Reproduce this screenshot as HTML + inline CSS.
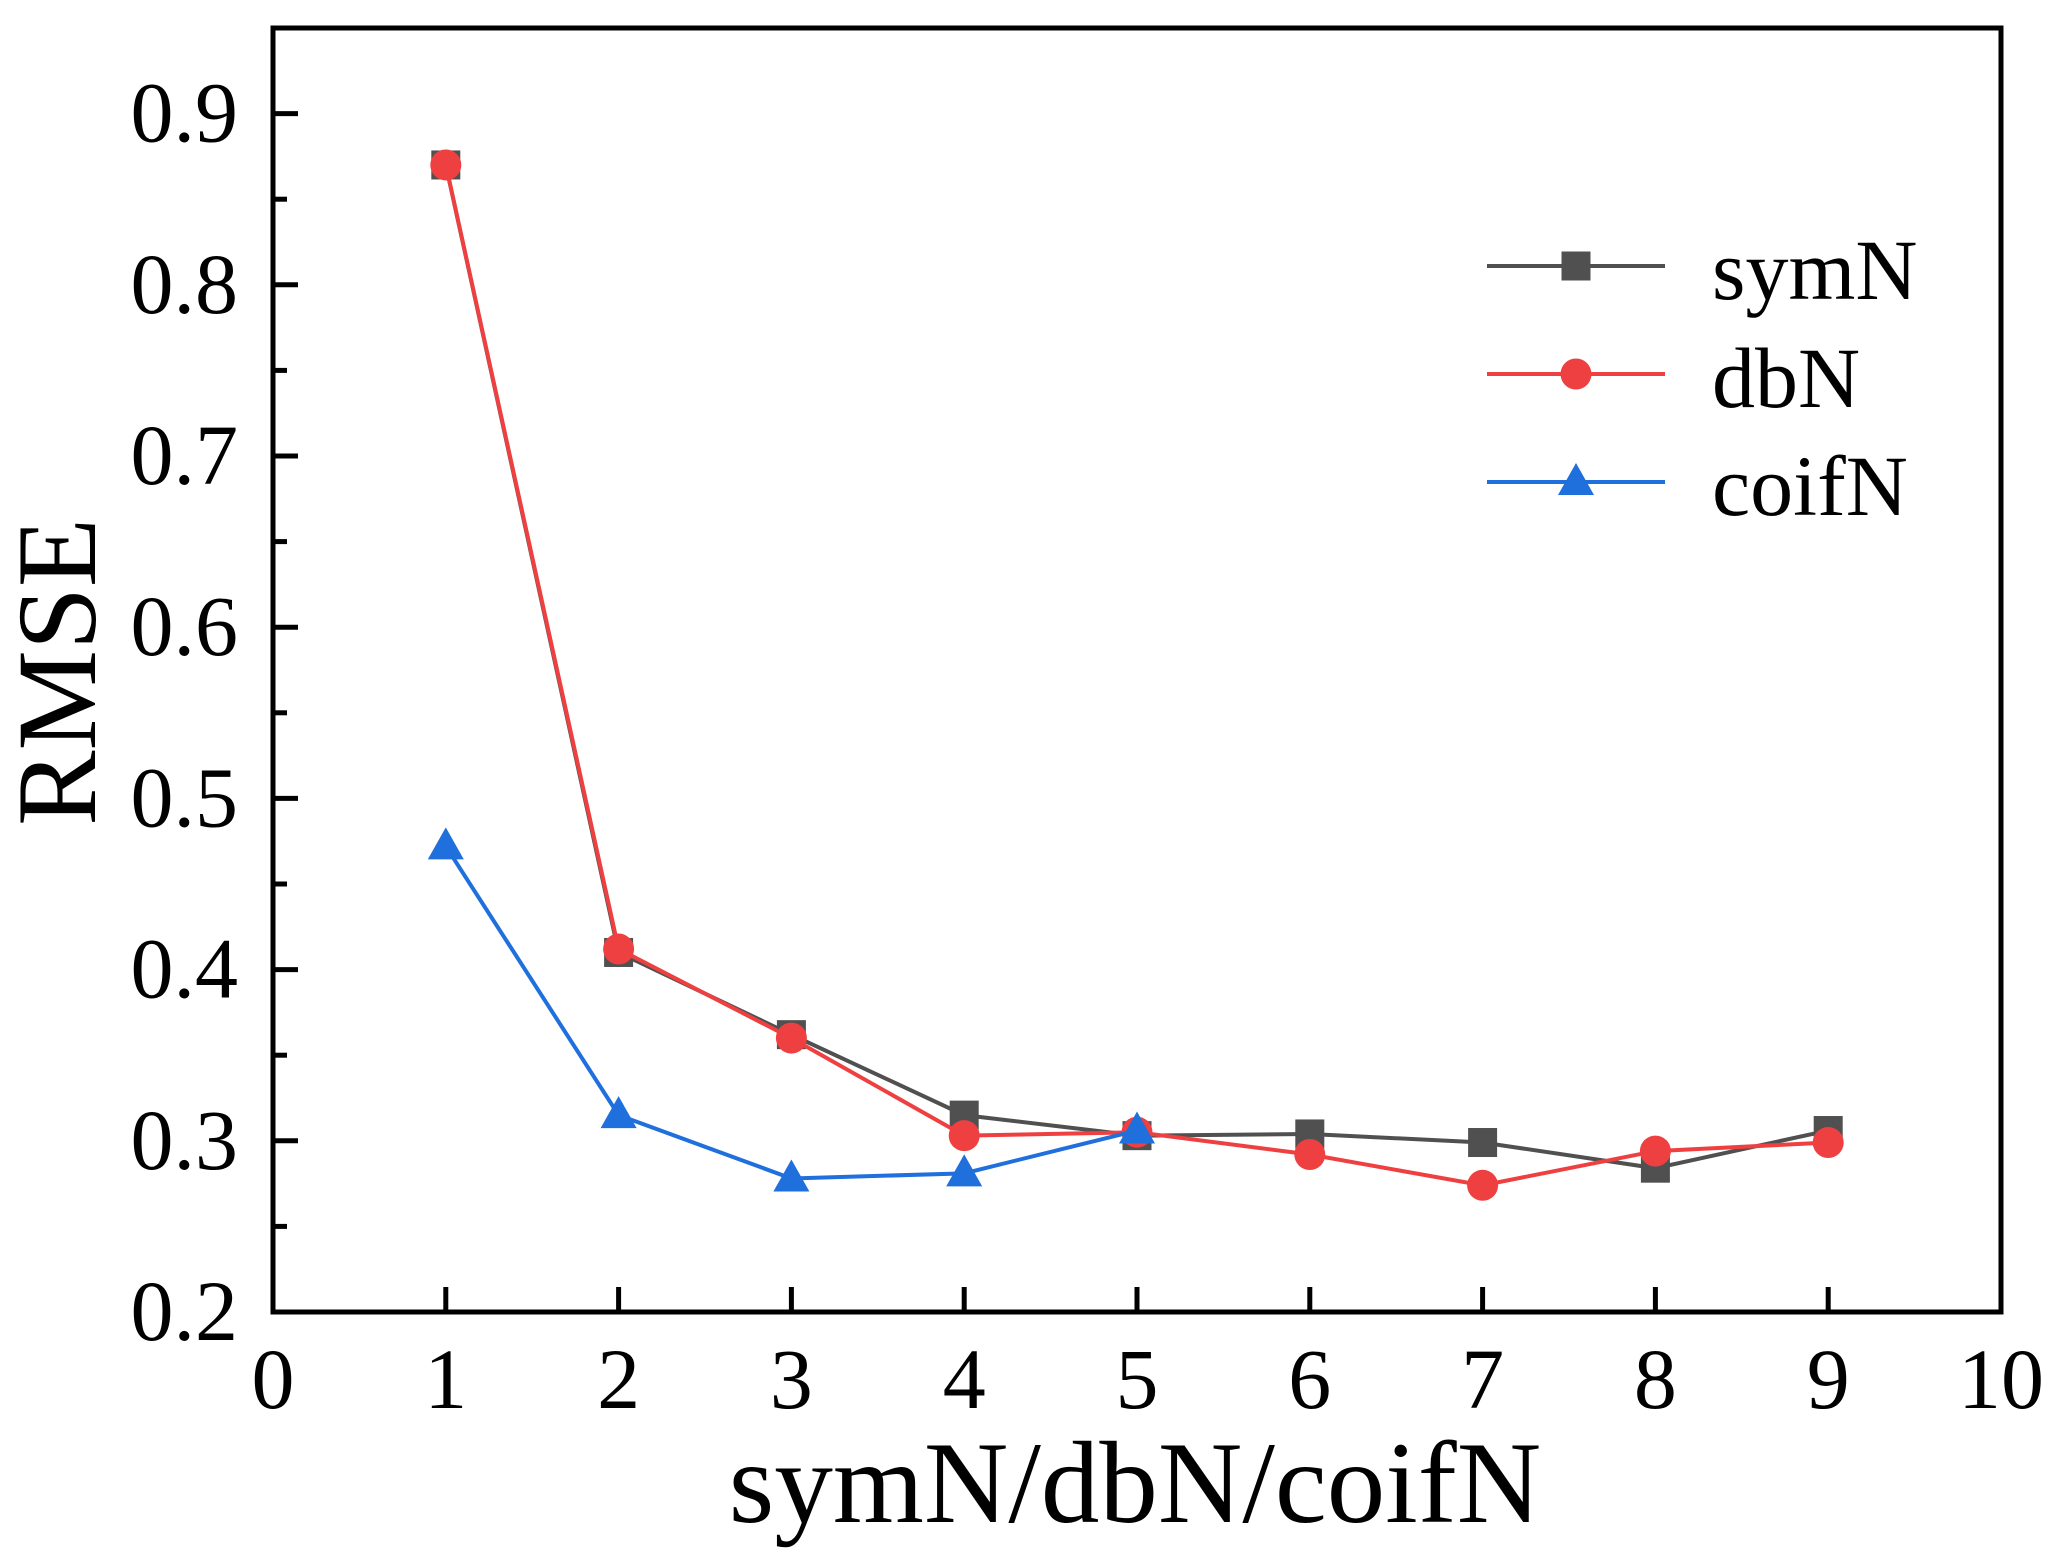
<!DOCTYPE html>
<html><head><meta charset="utf-8"><style>
html,body{margin:0;padding:0;background:#fff}
svg{display:block}
text{font-family:"Liberation Serif","Times New Roman",serif;fill:#000}
</style></head><body>
<svg id="chart" width="2051" height="1563" viewBox="0 0 2051 1563" xmlns="http://www.w3.org/2000/svg">
<g id="plot"></g>
</svg>
<script>
const xTicks = [0,1,2,3,4,5,6,7,8,9,10];
const yTicks = [0.2,0.3,0.4,0.5,0.6,0.7,0.8,0.9];
const yTickLabels = ["0.2","0.3","0.4","0.5","0.6","0.7","0.8","0.9"];
const xCats = [1,2,3,4,5,6,7,8,9];
const symN = [0.870,0.410,0.362,0.315,0.303,0.304,0.299,0.284,0.306];
const dbN = [0.870,0.412,0.360,0.303,0.305,0.292,0.274,0.294,0.299];
const coifX = [1,2,3,4,5];
const coifN = [0.472,0.315,0.278,0.281,0.306];

const L=273,R=2001,T=28,B=1312;
const X=v=>L+(v-0)/(10-0)*(R-L);
const Y=v=>B-(v-0.2)/(0.95-0.2)*(B-T);
const NS='http://www.w3.org/2000/svg';
const g=document.getElementById('plot');
function mk(tag,attrs,parent){const e=document.createElementNS(NS,tag);for(const k in attrs)e.setAttribute(k,attrs[k]);(parent||g).appendChild(e);return e;}

xTicks.forEach(v=>{
  const t=mk('line',{x1:X(v),x2:X(v),y1:B,y2:B-25,stroke:'#000','stroke-width':5});
  
  
  const lb=mk('text',{x:X(v),y:1408,'text-anchor':'middle','font-size':86});
  lb.textContent=String(v);
  
  
});
yTicks.forEach((v,i)=>{
  const t=mk('line',{x1:L,x2:L+25,y1:Y(v),y2:Y(v),stroke:'#000','stroke-width':5});
  
  
  const m=mk('line',{x1:L,x2:L+14,y1:Y(v+0.05),y2:Y(v+0.05),stroke:'#000','stroke-width':5});
  
  
  const lb=mk('text',{x:238,y:Y(v)+28,'text-anchor':'end','font-size':86});
  lb.textContent=yTickLabels[i];
  
  
});
const frame=mk('rect',{x:L,y:T,width:R-L,height:B-T,fill:'none',stroke:'#000','stroke-width':5});



function series(xs,ys,color,shape,name){
  const pl=mk('polyline',{points:xs.map((x,i)=>X(x)+','+Y(ys[i])).join(' '),fill:'none',stroke:color,'stroke-width':4});
  
  
  xs.forEach((x,i)=>marker(X(x),Y(ys[i]),color,shape,name+'-point'));
}
function marker(cx,cy,color,shape,name){
  let e;
  if(shape==='sq')e=mk('rect',{x:cx-14.5,y:cy-14.5,width:29,height:29,fill:color});
  else if(shape==='c')e=mk('circle',{cx:cx,cy:cy,r:15.5,fill:color});
  else e=mk('polygon',{points:`${cx},${cy-19} ${cx-18},${cy+13} ${cx+18},${cy+13}`,fill:color});
  
  
}
series(xCats,symN,'#505050','sq','symN');
series(xCats,dbN,'#ee4040','c','dbN');
series(coifX,coifN,'#1f6fdc','t','coifN');

const leg=[['symN','#505050','sq',266],['dbN','#ee4040','c',374],['coifN','#1f6fdc','t',482]];
leg.forEach(d=>{
  const l=mk('line',{x1:1487,x2:1665,y1:d[3],y2:d[3],stroke:d[1],'stroke-width':4});
  
  
  marker(1576,d[3],d[1],d[2],'legend-marker');
  const t=mk('text',{x:1712,y:d[3]+33,'font-size':86});
  t.textContent=d[0];
  
  
});

const xt=mk('text',{x:1135,y:1522,'text-anchor':'middle','font-size':117});
xt.textContent='symN/dbN/coifN';


const yt=mk('text',{x:0,y:0,'text-anchor':'middle','font-size':113,transform:'translate(95,672) rotate(-90)'});
yt.textContent='RMSE';


</script>
</body></html>
